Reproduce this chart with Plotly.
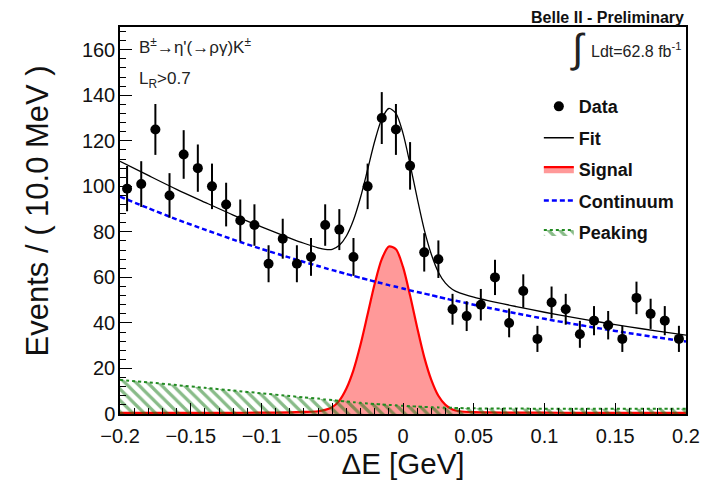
import numpy as np
import plotly.graph_objects as go

# ---------------- data ----------------
bin_centers = [-0.195, -0.185, -0.175, -0.165, -0.155, -0.145, -0.135, -0.125, -0.115, -0.105,
               -0.095, -0.085, -0.075, -0.065, -0.055, -0.045, -0.035, -0.025, -0.015, -0.005,
               0.005, 0.015, 0.025, 0.035, 0.045, 0.055, 0.065, 0.075, 0.085, 0.095,
               0.105, 0.115, 0.125, 0.135, 0.145, 0.155, 0.165, 0.175, 0.185, 0.195]
counts = [99, 101, 125, 96, 114, 108, 100, 92, 85, 83,
          66, 77, 66, 69, 83, 81, 69, 100, 130, 125,
          109, 71, 68, 46, 43, 48, 60, 40, 54, 33,
          49, 46, 35, 41, 39, 33, 51, 44, 41, 33]

curve_x = [-0.2, -0.18, -0.16, -0.14, -0.12, -0.1, -0.08, -0.07, -0.06, -0.055,
           -0.05, -0.045, -0.04, -0.035, -0.03, -0.025, -0.02, -0.015, -0.01, -0.005,
           0.0, 0.005, 0.01, 0.015, 0.02, 0.025, 0.03, 0.035, 0.04, 0.05,
           0.06, 0.08, 0.1, 0.12, 0.14, 0.16, 0.18, 0.2]
continuum = [95.5, 90.4, 85.5, 81.0, 76.6, 72.5, 68.7, 66.8, 65.0, 64.1,
             63.2, 62.4, 61.5, 60.7, 59.8, 59.0, 58.2, 57.4, 56.6, 55.9,
             55.1, 54.3, 53.6, 52.9, 52.2, 51.4, 50.7, 50.0, 49.4, 48.0,
             46.7, 44.2, 41.8, 39.6, 37.5, 35.5, 33.6, 31.8]
peaking = [15.0, 13.9, 12.7, 11.5, 10.3, 9.1, 7.9, 7.3, 6.8, 6.4,
           6.1, 5.8, 5.5, 5.2, 4.9, 4.6, 4.4, 4.2, 4.0, 3.8,
           3.6, 3.4, 3.3, 3.1, 3.0, 2.9, 2.8, 2.7, 2.6, 2.5,
           2.4, 2.4, 2.3, 2.3, 2.3, 2.3, 2.3, 2.3]
signal = [0.5, 0.5, 0.5, 0.5, 0.5, 0.6, 0.7, 0.9, 1.2, 1.8,
          3.0, 5.9, 11.2, 19.3, 30.5, 43.8, 57.2, 68.0, 73.6, 72.4,
          64.6, 52.0, 38.0, 25.0, 15.0, 8.0, 4.0, 2.0, 1.2, 0.8,
          0.7, 0.6, 0.6, 0.5, 0.5, 0.5, 0.5, 0.5]

x_tickvals = [-0.2, -0.15, -0.1, -0.05, 0, 0.05, 0.1, 0.15, 0.2]
x_ticktext = ["\u22120.2", "\u22120.15", "\u22120.1", "\u22120.05", "0", "0.05", "0.1", "0.15", "0.2"]
y_tickvals = [0, 20, 40, 60, 80, 100, 120, 140, 160]
y_ticktext = ["0", "20", "40", "60", "80", "100", "120", "140", "160"]

fit = list(np.array(continuum) + np.array(peaking) + np.array(signal))
errors = list(np.sqrt(np.array(counts, dtype=float)))

FONT = "Liberation Sans, Arial, Helvetica, sans-serif"

fig = go.Figure()

# Signal
fig.add_trace(go.Scatter(
    x=curve_x, y=signal, mode="lines", name="Signal",
    line=dict(color="red", width=2.2, shape="spline", smoothing=0.8),
    fill="tozeroy", fillcolor="rgba(255,0,0,0.40)",
    legendrank=3, legendgroup="s"))

# Peaking
fig.add_trace(go.Scatter(
    x=curve_x, y=peaking, mode="lines", name="Peaking",
    line=dict(color="#228b22", width=2, dash="dot", shape="spline", smoothing=0.6),
    fill="tozeroy",
    fillpattern=dict(shape="\\", fgcolor="#127812", bgcolor="rgba(0,0,0,0)", size=8, solidity=0.4),
    legendrank=5, legendgroup="p"))

# Continuum
fig.add_trace(go.Scatter(
    x=curve_x, y=continuum, mode="lines", name="Continuum",
    line=dict(color="#0000ff", width=2.5, dash="5px,3px", shape="spline", smoothing=0.6),
    legendrank=4, legendgroup="c"))

# Fit
fig.add_trace(go.Scatter(
    x=curve_x, y=fit, mode="lines", name="Fit",
    line=dict(color="black", width=1.3, shape="spline", smoothing=0.8),
    legendrank=2, legendgroup="f"))

# Data
fig.add_trace(go.Scatter(
    x=bin_centers, y=counts, mode="markers", name="Data",
    marker=dict(color="black", size=10),
    error_y=dict(type="data", array=errors, visible=True, thickness=2, width=0, color="black"),
    legendrank=1, legendgroup="d"))

axis_common = dict(
    showline=True, linecolor="black", linewidth=1.5, mirror=True,
    ticks="inside", tickcolor="black", tickwidth=1.2,
    showgrid=False, zeroline=False,
    tickfont=dict(family=FONT, size=20, color="#111"),
)

fig.update_xaxes(
    range=[-0.2, 0.2], tickvals=x_tickvals, ticktext=x_ticktext, ticklen=11,
    ticklabelstandoff=3,
    minor=dict(dtick=0.01, ticklen=6, ticks="inside", tickcolor="black", tickwidth=1.2),
    title=dict(text="\u0394E [GeV]", font=dict(family=FONT, size=29.5, color="#111"), standoff=7),
    **axis_common)
fig.update_yaxes(
    range=[0, 170], tickvals=y_tickvals, ticktext=y_ticktext, ticklen=12,
    ticklabelstandoff=-1,
    minor=dict(dtick=4, ticklen=6, ticks="inside", tickcolor="black", tickwidth=1.2),
    **axis_common)

# the page body adds an 8 px offset; the figure is sized to fit the window
fig.update_layout(
    width=704, height=478,
    margin=dict(l=112, r=25, t=19, b=70),
    paper_bgcolor="white", plot_bgcolor="white",
    showlegend=True,
    legend=dict(x=0.74, y=0.842, xanchor="left", yanchor="top",
                bgcolor="rgba(0,0,0,0)", traceorder="grouped", tracegroupgap=5,
                itemwidth=30,
                font=dict(family=FONT, size=18, color="#111", weight="bold")),
    annotations=[
        dict(x=-0.1455, y=0.525, xref="paper", yref="paper", xanchor="center", yanchor="middle",
             text="Events / ( 10.0 MeV )", textangle=-90, showarrow=False,
             font=dict(family=FONT, size=31, color="#111")),
        dict(x=0.03, y=0.95, xref="paper", yref="paper", xanchor="left", yanchor="middle",
             text="B<sup>\u00b1</sup>\u2192\u03b7'(\u2192\u03c1\u03b3)K<sup>\u00b1</sup>", showarrow=False,
             font=dict(family=FONT, size=17, color="#222")),
        dict(x=0.03, y=0.862, xref="paper", yref="paper", xanchor="left", yanchor="middle",
             text="L<sub>R</sub>>0.7", showarrow=False,
             font=dict(family=FONT, size=17, color="#222")),
        dict(x=0.792, y=0.945, xref="paper", yref="paper", xanchor="left", yanchor="middle",
             text="\u222b", showarrow=False,
             font=dict(family=FONT, size=40, color="#222")),
        dict(x=0.995, y=0.94, xref="paper", yref="paper", xanchor="right", yanchor="middle",
             text="Ldt=62.8 fb<sup>-1</sup>", showarrow=False,
             font=dict(family=FONT, size=16, color="#222")),
        dict(x=1.0, y=1.0, xref="paper", yref="paper", xanchor="right", yanchor="bottom",
             text="<b>Belle II - Preliminary</b>", showarrow=False, yshift=-1,
             font=dict(family=FONT, size=16, color="#111")),
    ],
)

fig.write_html("out.html")
